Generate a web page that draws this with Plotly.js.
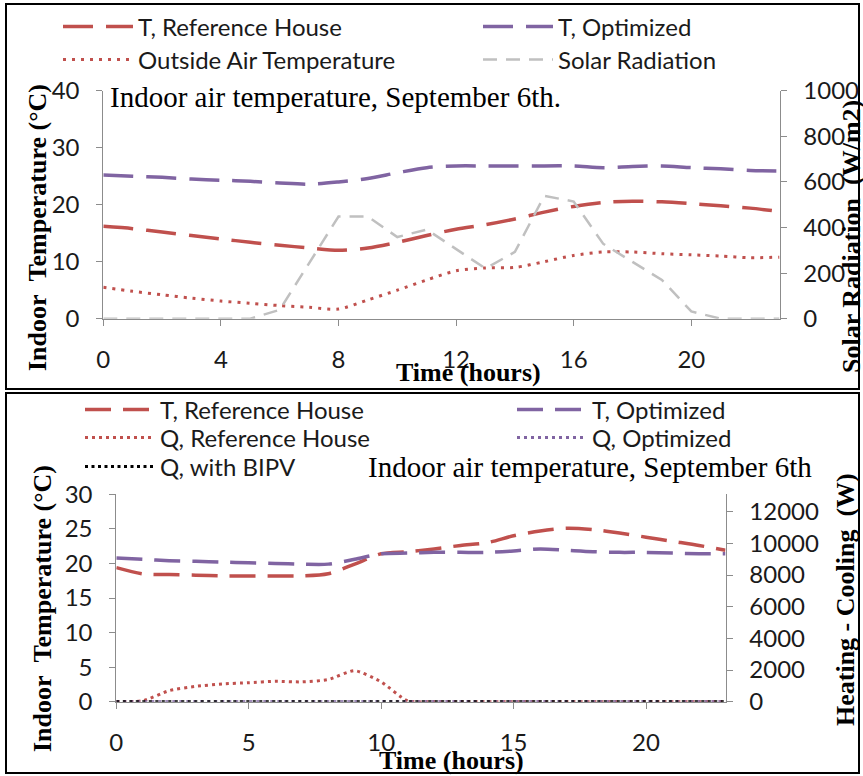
<!DOCTYPE html>
<html>
<head>
<meta charset="utf-8">
<script src="https://cdn.plot.ly/plotly-3.0.1.min.js"></script>
<style>html,body{margin:0;padding:0;background:#fff;}#chart{width:863px;height:776px;}</style>
</head>
<body>
<div id="chart"></div>
<script>
// ---------- data ----------
const hours = [0,1,2,3,4,5,6,7,8,9,10,11,12,13,14,15,16,17,18,19,20,21,22,23];

// top panel
const topTRef   = [16.2,15.8,15.2,14.6,14.0,13.4,12.9,12.4,12.0,12.4,13.4,14.6,15.7,16.5,17.5,18.7,19.7,20.4,20.6,20.5,20.2,19.8,19.4,18.8];
const topTOpt   = [25.2,25.0,24.8,24.5,24.3,24.1,23.8,23.6,24.0,24.6,25.6,26.5,26.8,26.8,26.8,26.8,26.8,26.5,26.7,26.8,26.5,26.3,26.0,25.9];
const outsideAir= [5.5,4.8,4.2,3.6,3.1,2.7,2.3,2.0,1.7,3.3,5.0,6.8,8.4,8.9,9.0,10.0,11.1,11.7,11.7,11.4,11.2,11.0,10.7,10.8];
const solarRad  = [0,0,0,0,0,0,39,242,448,448,358,391,307,220,293,539,514,329,249,170,32,0,0,0];

// bottom panel
const botTRef = [19.4,18.5,18.4,18.3,18.2,18.2,18.2,18.2,18.5,19.9,21.4,21.7,22.1,22.6,23.0,24.0,24.7,25.1,24.9,24.4,23.8,23.2,22.6,21.9];
const botTOpt = [20.8,20.6,20.4,20.3,20.2,20.1,20.0,19.9,19.9,20.6,21.4,21.5,21.6,21.6,21.6,21.8,22.1,21.9,21.7,21.6,21.6,21.5,21.4,21.4];
const qRef    = [0,60,700,970,1120,1200,1290,1250,1400,1960,1250,50,0,0,0,0,0,0,0,0,0,0,0,0];
const qOpt    = [0,0,0,0,0,0,0,0,0,0,0,0,0,0,0,0,0,0,0,0,0,0,0,0];
const qBIPV   = [0,0,0,0,0,0,0,0,0,0,0,0,0,0,0,0,0,0,0,0,0,0,0,0];

const topXTicks = [0,4,8,12,16,20];
const botXTicks = [0,5,10,15,20];
const heatTicks = [0,2000,4000,6000,8000,10000,12000];

// ---------- helpers (layout only) ----------
const W = 863, H = 776;
const px = x => x / W;
const py = y => 1 - y / H;

const RED = '#C0504D', PURPLE = '#8064A2', GRAY = '#C0C0C0';
const tickFont = {family: 'Lato, sans-serif', size: 24, color: '#1a1a1a'};
const legFont  = {family: 'Lato, sans-serif', size: 24, color: '#1a1a1a'};
const titleFontB = {family: '"Liberation Serif", "Times New Roman", serif', size: 26, color: '#000'};
const titleFontR = {family: '"Liberation Serif", "Times New Roman", serif', size: 29, color: '#000'};

const traces = [
  {x: hours, y: topTRef, name: 'T, Reference House', type: 'scatter', mode: 'lines', xaxis: 'x', yaxis: 'y',
   line: {color: RED, width: 3.5, dash: '30px,13px', shape: 'spline', smoothing: 0.8}, legend: 'legend'},
  {x: hours, y: topTOpt, name: 'T, Optimized', type: 'scatter', mode: 'lines', xaxis: 'x', yaxis: 'y',
   line: {color: PURPLE, width: 3.5, dash: '30px,13px', shape: 'spline', smoothing: 0.8}, legend: 'legend2'},
  {x: hours, y: outsideAir, name: 'Outside Air Temperature', type: 'scatter', mode: 'lines', xaxis: 'x', yaxis: 'y',
   line: {color: RED, width: 3, dash: '3px,6px', shape: 'spline', smoothing: 0.8}, legend: 'legend3'},
  {x: hours, y: solarRad, name: 'Solar Radiation', type: 'scatter', mode: 'lines', xaxis: 'x', yaxis: 'y2',
   line: {color: GRAY, width: 2.5, dash: '14px,9px'}, legend: 'legend4'},

  {x: hours, y: botTRef, name: 'T, Reference House', type: 'scatter', mode: 'lines', xaxis: 'x2', yaxis: 'y3',
   line: {color: RED, width: 3.5, dash: '26px,12px', shape: 'spline', smoothing: 0.8}, legend: 'legend5'},
  {x: hours, y: botTOpt, name: 'T, Optimized', type: 'scatter', mode: 'lines', xaxis: 'x2', yaxis: 'y3',
   line: {color: PURPLE, width: 3.5, dash: '26px,12px', shape: 'spline', smoothing: 0.8}, legend: 'legend6'},
  {x: hours, y: qRef, name: 'Q, Reference House', type: 'scatter', mode: 'lines', xaxis: 'x2', yaxis: 'y4',
   line: {color: RED, width: 3, dash: '3px,4px', shape: 'spline', smoothing: 0.6}, legend: 'legend7'},
  {x: hours, y: qOpt, name: 'Q, Optimized', type: 'scatter', mode: 'lines', xaxis: 'x2', yaxis: 'y4',
   line: {color: PURPLE, width: 3, dash: '3px,4px'}, legend: 'legend8'},
  {x: hours, y: qBIPV, name: 'Q, with BIPV', type: 'scatter', mode: 'lines', xaxis: 'x2', yaxis: 'y4',
   line: {color: '#000', width: 3, dash: '3px,3.5px'}, legend: 'legend9'}
];

function axisBase(extra) {
  return Object.assign({
    showline: true, linecolor: '#8C8C8C', linewidth: 1,
    ticks: 'outside', ticklen: 6, tickcolor: '#8C8C8C', tickwidth: 1,
    showgrid: false, zeroline: false, tickfont: tickFont, fixedrange: true
  }, extra);
}

function leg(x, y) {
  return {x: px(x), y: py(y), xanchor: 'left', yanchor: 'middle', orientation: 'v',
          bgcolor: 'rgba(0,0,0,0)', borderwidth: 0, font: legFont, itemwidth: 70,
          itemclick: false, itemdoubleclick: false};
}

const legLeftTop = 58, legRightTop = 478, legLeftBot = 80, legRightBot = 512;

const layout = {
  width: W, height: H,
  margin: {l: 0, r: 0, t: 0, b: 0},
  paper_bgcolor: '#fff', plot_bgcolor: 'rgba(0,0,0,0)',
  showlegend: true,
  xaxis: axisBase({domain: [px(103.3), px(779.5)], range: [0, 23], anchor: 'y',
                   tickmode: 'array', tickvals: topXTicks, ticklabelstandoff: 13}),
  yaxis: axisBase({domain: [py(318.7), py(90.7)], range: [0, 40], dtick: 10, anchor: 'x',
                   ticklabelstandoff: 12}),
  yaxis2: axisBase({range: [0, 1000], dtick: 200, overlaying: 'y', side: 'right', anchor: 'x',
                    ticklabelstandoff: 12}),
  xaxis2: axisBase({domain: [px(116.3), px(725.5)], range: [0, 23], anchor: 'y3',
                    tickmode: 'array', tickvals: botXTicks, ticklabelstandoff: 13}),
  yaxis3: axisBase({domain: [py(701.7), py(494.3)], range: [0, 30], dtick: 5, anchor: 'x2',
                    ticklabelstandoff: 12}),
  yaxis4: axisBase({range: [0, 13100], tickmode: 'array', tickvals: heatTicks,
                    ticktext: heatTicks.map(String), overlaying: 'y3',
                    side: 'right', anchor: 'x2', ticklabelstandoff: 12}),
  legend:  leg(legLeftTop, 27),
  legend2: leg(legRightTop, 27),
  legend3: leg(legLeftTop, 60),
  legend4: leg(legRightTop, 60),
  legend5: leg(legLeftBot, 410),
  legend6: leg(legRightBot, 410),
  legend7: leg(legLeftBot, 438),
  legend8: leg(legRightBot, 438),
  legend9: leg(legLeftBot, 467),
  annotations: [
    {text: 'Indoor air temperature, September 6th.', xref: 'paper', yref: 'paper', x: px(108), y: py(97),
     xanchor: 'left', yanchor: 'middle', showarrow: false, font: titleFontR},
    {text: 'Indoor air temperature, September 6th', xref: 'paper', yref: 'paper', x: px(366), y: py(467),
     xanchor: 'left', yanchor: 'middle', showarrow: false, font: titleFontR},
    {text: '<b>Indoor\u00A0\u00A0Temperature (°C)</b>', xref: 'paper', yref: 'paper', x: px(37), y: py(228),
     xanchor: 'center', yanchor: 'middle', textangle: -90, showarrow: false, font: titleFontB},
    {text: '<b>Solar Radiation\u00A0\u00A0(W/m2)</b>', xref: 'paper', yref: 'paper', x: px(851), y: py(237),
     xanchor: 'center', yanchor: 'middle', textangle: -90, showarrow: false, font: titleFontB},
    {text: '<b>Time (hours)</b>', xref: 'paper', yref: 'paper', x: px(468), y: py(372),
     xanchor: 'center', yanchor: 'middle', showarrow: false, font: titleFontB},
    {text: '<b>Indoor\u00A0\u00A0Temperature (°C)</b>', xref: 'paper', yref: 'paper', x: px(42), y: py(609),
     xanchor: 'center', yanchor: 'middle', textangle: -90, showarrow: false, font: titleFontB},
    {text: '<b>Heating - Cooling\u00A0\u00A0(W)</b>', xref: 'paper', yref: 'paper', x: px(845), y: py(600),
     xanchor: 'center', yanchor: 'middle', textangle: -90, showarrow: false, font: titleFontB},
    {text: '<b>Time (hours)</b>', xref: 'paper', yref: 'paper', x: px(452), y: py(760),
     xanchor: 'center', yanchor: 'middle', showarrow: false, font: titleFontB}
  ],
  shapes: [
    {type: 'rect', xref: 'paper', yref: 'paper', x0: px(6), x1: px(859), y0: py(389), y1: py(4),
     line: {color: '#000', width: 2}, fillcolor: 'rgba(0,0,0,0)', layer: 'below'},
    {type: 'rect', xref: 'paper', yref: 'paper', x0: px(6), x1: px(859), y0: py(773), y1: py(393),
     line: {color: '#000', width: 2}, fillcolor: 'rgba(0,0,0,0)', layer: 'below'}
  ]
};

Plotly.newPlot('chart', traces, layout, {displayModeBar: false, staticPlot: true});
</script>
</body>
</html>
